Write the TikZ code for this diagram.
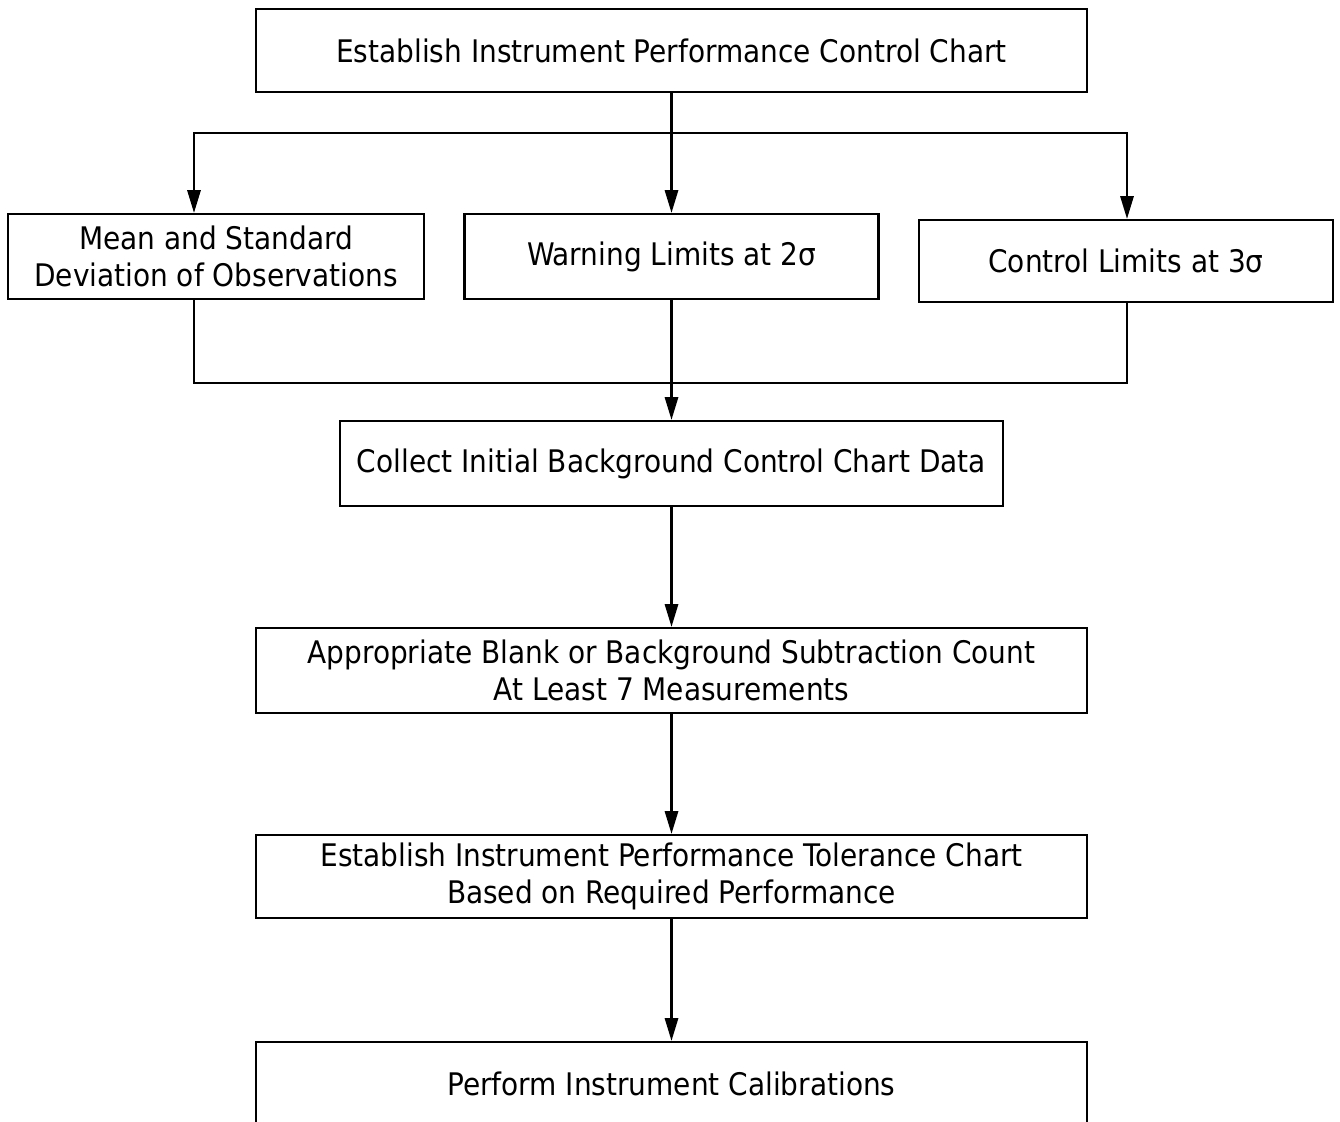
\documentclass[tikz,border=0pt]{standalone}
\usepackage{fontspec}
\setmainfont{DejaVu Sans Condensed}
\usetikzlibrary{arrows.meta}

\begin{document}
\begin{tikzpicture}[x=0.02cm,y=-0.02cm,line width=1.4pt,line join=miter,
  box/.style={draw,line width=1.2pt,inner sep=0pt,align=center,font=\fontsize{17.7}{21.5}\selectfont},
  arr/.style={-{Triangle[length=13pt,width=7.5pt]}}]
\useasboundingbox (0,0) rectangle (1340,1122);
% boxes
\node[box,minimum width=16.62cm,minimum height=1.66cm] (perfchart) at (671.5,50.5) {Establish Instrument Performance Control Chart};
\node[box,minimum width=8.32cm,minimum height=1.70cm] (meansd) at (216,256.5) {Mean and Standard\\Deviation of Observations};
\node[box,minimum width=8.28cm,minimum height=1.70cm] (warnlim) at (671.5,256.5) {Warning Limits at 2σ};
\node[box,minimum width=8.28cm,minimum height=1.64cm] (ctrllim) at (1126,261) {Control Limits at 3σ};
\node[box,minimum width=13.28cm,minimum height=1.70cm] (collect) at (671.5,463.5) {Collect Initial Background Control Chart Data};
\node[box,minimum width=16.62cm,minimum height=1.70cm] (blank) at (671.5,670.5) {Appropriate Blank or Background Subtraction Count\\At Least 7 Measurements};
\node[box,minimum width=16.62cm,minimum height=1.66cm] (tolchart) at (671.5,876.5) {Establish Instrument Performance Tolerance Chart\\Based on Required Performance};
\node[box,minimum width=16.62cm,minimum height=1.66cm] (calib) at (671.5,1083.5) {Perform Instrument Calibrations};
% branching
\coordinate (splitl) at (194,133);
\coordinate (splitr) at (1127,133);
\coordinate (joinl) at (194,383);
\coordinate (joinr) at (1127,383);
\draw[arr] (splitr) -- (splitl) -- (splitl |- meansd.north);
\draw[arr] (splitl) -- (splitr) -- (splitr |- ctrllim.north);
\draw[arr] (perfchart) -- (warnlim);
\draw (joinl |- meansd.south) -- (joinl) -- (joinr) -- (joinr |- ctrllim.south);
\draw[arr] (warnlim) -- (collect);
% main line
\draw[arr] (collect) -- (blank);
\draw[arr] (blank) -- (tolchart);
\draw[arr] (tolchart) -- (calib);
\end{tikzpicture}
\end{document}
